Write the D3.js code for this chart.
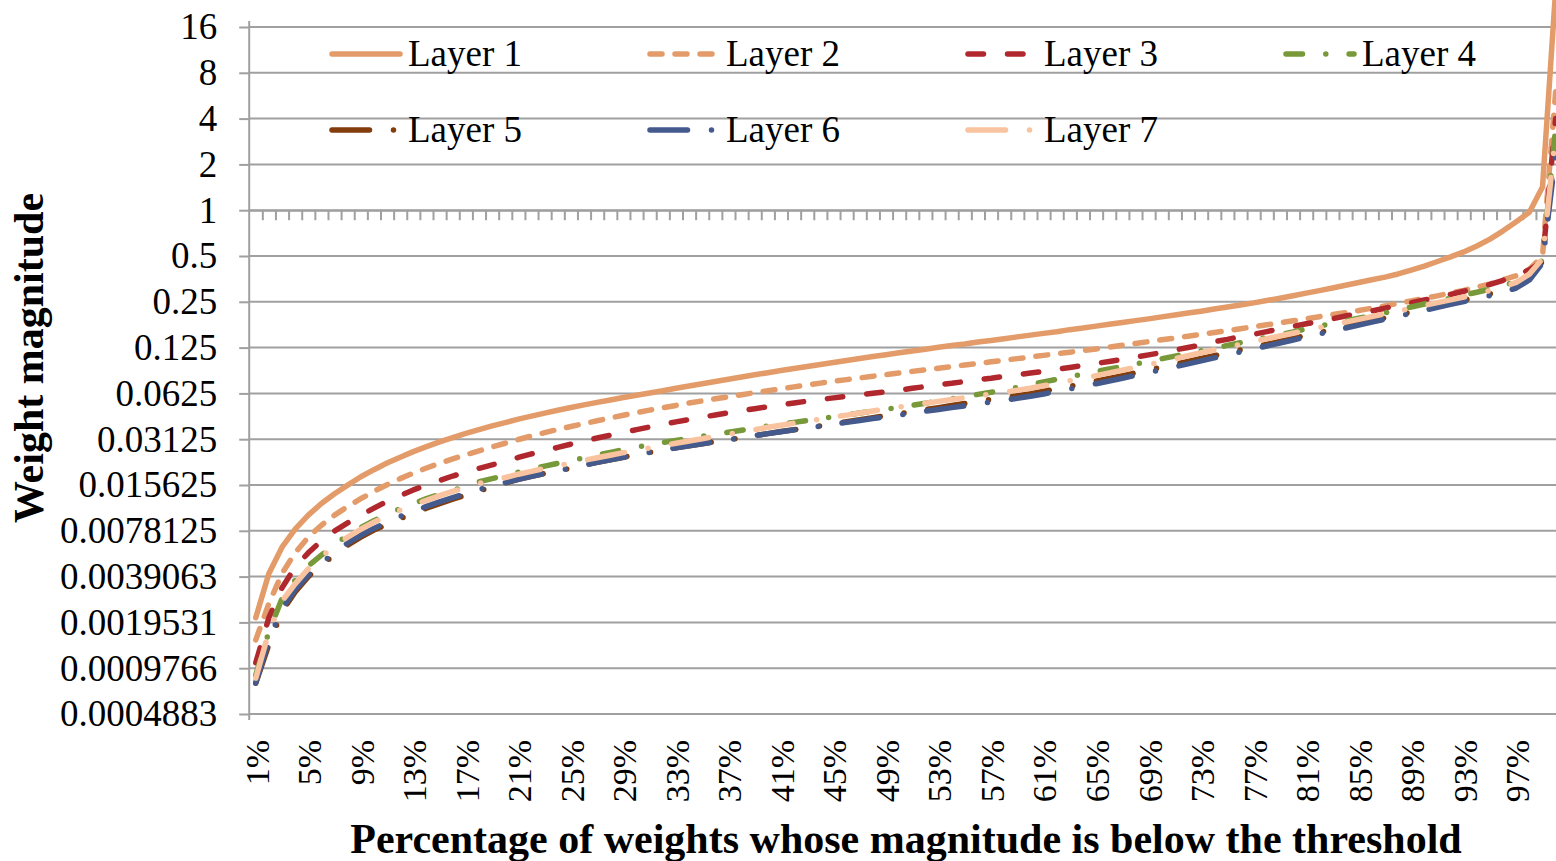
<!DOCTYPE html>
<html>
<head>
<meta charset="utf-8">
<script src="https://cdn.jsdelivr.net/npm/d3@7"></script>
<style>
  html, body { margin: 0; padding: 0; background: #fff; }
  svg { display: block; }
  text { font-family: "Liberation Serif", "Times New Roman", serif; fill: #000; }
</style>
</head>
<body>
<svg id="chart" width="1556" height="861"></svg>
<script>
// Percentile categories along the x axis (1% .. 100%)
const percentiles = [
  1,2,3,4,5,6,7,8,9,10,11,12,13,14,15,16,17,18,19,20,
  21,22,23,24,25,26,27,28,29,30,31,32,33,34,35,36,37,38,39,40,
  41,42,43,44,45,46,47,48,49,50,51,52,53,54,55,56,57,58,59,60,
  61,62,63,64,65,66,67,68,69,70,71,72,73,74,75,76,77,78,79,80,
  81,82,83,84,85,86,87,88,89,90,91,92,93,94,95,96,97,98,99,100
];

// Labelled categories on the x axis
const xTickLabels = ["1%","5%","9%","13%","17%","21%","25%","29%","33%","37%","41%","45%",
  "49%","53%","57%","61%","65%","69%","73%","77%","81%","85%","89%","93%","97%"];

// y axis: powers of two and their printed labels
const yTickValues = [16, 8, 4, 2, 1, 0.5, 0.25, 0.125, 0.0625, 0.03125, 0.015625,
  0.0078125, 0.00390625, 0.001953125, 0.0009765625, 0.00048828125];
const yTickLabels = ["16","8","4","2","1","0.5","0.25","0.125","0.0625","0.03125","0.015625",
  "0.0078125","0.0039063","0.0019531","0.0009766","0.0004883"];

// Weight magnitude thresholds per layer, one value per percentile
const layer1 = [
  0.0021,0.0041,0.0061,0.0080,0.0099,0.0118,0.0137,0.0156,0.0177,0.0197,
  0.0218,0.0238,0.0259,0.0279,0.0300,0.0320,0.0341,0.0361,0.0382,0.0402,
  0.0423,0.0443,0.0464,0.0484,0.0505,0.0525,0.0546,0.0566,0.0587,0.0607,
  0.0628,0.0651,0.0675,0.0699,0.0724,0.0749,0.0775,0.0801,0.0828,0.0855,
  0.0883,0.0911,0.0940,0.0969,0.0999,0.1029,0.1060,0.1091,0.1123,0.1155,
  0.1188,0.1221,0.1255,0.129,0.132,0.136,0.139,0.143,0.147,0.151,
  0.155,0.159,0.164,0.168,0.173,0.178,0.183,0.188,0.193,0.199,
  0.205,0.211,0.217,0.224,0.231,0.238,0.246,0.255,0.264,0.274,
  0.285,0.296,0.308,0.321,0.335,0.349,0.363,0.381,0.404,0.429,
  0.460,0.493,0.532,0.582,0.646,0.732,0.840,0.970,1.42,28
];
const layer2 = [
  0.0015,0.0026,0.0041,0.0056,0.0071,0.0085,0.0099,0.0113,0.0127,0.0142,
  0.0157,0.0172,0.0187,0.0202,0.0217,0.0232,0.0247,0.0262,0.0278,0.0294,
  0.0311,0.0328,0.0345,0.0362,0.0379,0.0396,0.0413,0.0431,0.0449,0.0467,
  0.0485,0.0503,0.0521,0.0540,0.0558,0.0576,0.0594,0.0613,0.0632,0.0651,
  0.0670,0.0690,0.0710,0.0730,0.0750,0.0770,0.0790,0.0810,0.0830,0.0851,
  0.0872,0.0893,0.0915,0.0938,0.0961,0.0984,0.1008,0.1033,0.1058,0.1084,
  0.1111,0.1138,0.1166,0.1195,0.1224,0.1259,0.1294,0.1330,0.1368,0.1406,
  0.1446,0.1486,0.1528,0.1571,0.1615,0.1664,0.1714,0.1765,0.1818,0.1875,
  0.1934,0.1995,0.2059,0.2124,0.2192,0.2269,0.2349,0.2441,0.2535,0.2633,
  0.2736,0.2852,0.2973,0.3120,0.3276,0.3490,0.3711,0.4089,0.5000,6.0
];
const layer3 = [
  0.00106,0.0021,0.0033,0.0045,0.0056,0.0067,0.0078,0.0088,0.0099,0.0110,
  0.0122,0.0133,0.0145,0.0156,0.0167,0.0179,0.0190,0.0201,0.0212,0.0224,
  0.0237,0.0250,0.0263,0.0276,0.0290,0.0304,0.0318,0.0332,0.0346,0.0361,
  0.0376,0.0391,0.0406,0.0421,0.0436,0.0451,0.0466,0.0481,0.0496,0.0511,
  0.0526,0.0541,0.0556,0.0570,0.0584,0.0598,0.0612,0.0626,0.0641,0.0656,
  0.0675,0.0693,0.0713,0.0728,0.0748,0.0769,0.0786,0.0808,0.0830,0.0850,
  0.0874,0.0899,0.0926,0.0954,0.0983,0.1014,0.1047,0.1082,0.1120,0.1160,
  0.1205,0.1252,0.1300,0.1368,0.1416,0.1476,0.1528,0.1593,0.1661,0.1719,
  0.1792,0.1856,0.1934,0.2016,0.2088,0.2176,0.2269,0.2365,0.2466,0.2570,
  0.2679,0.2793,0.2932,0.3078,0.3253,0.3463,0.3711,0.4061,0.4601,4.0
];
const layer4 = [
  0.00088,0.0017,0.0028,0.0037,0.0046,0.0054,0.0063,0.0073,0.0082,0.0091,
  0.0100,0.0109,0.0118,0.0127,0.0136,0.0144,0.0153,0.0164,0.0172,0.0181,
  0.0190,0.0199,0.0208,0.0217,0.0226,0.0236,0.0246,0.0256,0.0267,0.0277,
  0.0287,0.0297,0.0307,0.0317,0.0327,0.0337,0.0347,0.0358,0.0370,0.0381,
  0.0392,0.0403,0.0414,0.0427,0.0439,0.0451,0.0465,0.0478,0.0492,0.0505,
  0.0522,0.0539,0.0556,0.0575,0.0596,0.0616,0.0636,0.0660,0.0684,0.0712,
  0.0744,0.0773,0.0803,0.0835,0.0869,0.0905,0.0939,0.0976,0.1015,0.1056,
  0.1099,0.1144,0.1192,0.1241,0.1292,0.1346,0.1402,0.1461,0.1521,0.1584,
  0.1658,0.1727,0.1799,0.1873,0.1950,0.2031,0.2114,0.2211,0.2312,0.2418,
  0.2528,0.2643,0.2764,0.2891,0.3025,0.3180,0.3390,0.3800,0.4700,3.5
];
const layer5 = [
  0.00078,0.0014,0.0023,0.0031,0.0039,0.0047,0.0054,0.0063,0.0071,0.0079,
  0.0086,0.0094,0.0102,0.0110,0.0118,0.0126,0.0134,0.0143,0.0152,0.0161,
  0.0170,0.0178,0.0186,0.0194,0.0202,0.0211,0.0220,0.0229,0.0238,0.0247,
  0.0256,0.0265,0.0274,0.0283,0.0292,0.0301,0.0310,0.0320,0.0330,0.0340,
  0.0351,0.0361,0.0372,0.0383,0.0395,0.0407,0.0420,0.0433,0.0446,0.0460,
  0.0474,0.0489,0.0504,0.0520,0.0536,0.0553,0.0570,0.0587,0.0604,0.0622,
  0.0645,0.0670,0.0696,0.0724,0.0753,0.0784,0.0817,0.0853,0.0890,0.0930,
  0.0971,0.1014,0.1059,0.1106,0.1155,0.1207,0.1260,0.1316,0.1375,0.1437,
  0.1502,0.1570,0.1641,0.1715,0.1793,0.1875,0.1960,0.2050,0.2144,0.2242,
  0.2344,0.2451,0.2566,0.2689,0.2822,0.2980,0.3200,0.3560,0.4600,2.8
];
const layer6 = [
  0.00078,0.0015,0.0024,0.0032,0.0040,0.0048,0.0056,0.0065,0.0073,0.0081,
  0.0089,0.0097,0.0105,0.0113,0.0121,0.0129,0.0137,0.0146,0.0154,0.0162,
  0.0170,0.0178,0.0186,0.0194,0.0202,0.0211,0.0220,0.0229,0.0238,0.0247,
  0.0256,0.0265,0.0274,0.0283,0.0292,0.0301,0.0310,0.0320,0.0330,0.0340,
  0.0350,0.0360,0.0370,0.0381,0.0392,0.0403,0.0415,0.0427,0.0439,0.0451,
  0.0464,0.0477,0.0490,0.0504,0.0518,0.0533,0.0548,0.0564,0.0580,0.0598,
  0.0620,0.0644,0.0669,0.0696,0.0724,0.0754,0.0786,0.0820,0.0856,0.0894,
  0.0935,0.0978,0.1023,0.1070,0.1119,0.1171,0.1225,0.1281,0.1340,0.1402,
  0.1467,0.1535,0.1606,0.1680,0.1757,0.1838,0.1922,0.2010,0.2102,0.2198,
  0.2298,0.2403,0.2513,0.2628,0.2750,0.2890,0.3080,0.3480,0.4500,2.3
];
const layer7 = [
  0.00084,0.0017,0.0027,0.0035,0.0044,0.0053,0.0062,0.0071,0.0080,0.0089,
  0.0098,0.0107,0.0116,0.0124,0.0133,0.0142,0.0150,0.0160,0.0168,0.0175,
  0.0184,0.0192,0.0201,0.0209,0.0218,0.0227,0.0236,0.0245,0.0255,0.0264,
  0.0274,0.0284,0.0294,0.0304,0.0315,0.0326,0.0337,0.0349,0.0361,0.0374,
  0.0386,0.0398,0.0410,0.0423,0.0437,0.0450,0.0465,0.0479,0.0494,0.0509,
  0.0524,0.0539,0.0554,0.0570,0.0585,0.0602,0.0619,0.0637,0.0655,0.0676,
  0.0701,0.0728,0.0756,0.0786,0.0818,0.0852,0.0888,0.0927,0.0967,0.1010,
  0.1057,0.1105,0.1156,0.1206,0.1258,0.1313,0.1370,0.1428,0.1490,0.1554,
  0.1620,0.1689,0.1761,0.1837,0.1915,0.1998,0.2083,0.2172,0.2266,0.2365,
  0.2468,0.2576,0.2689,0.2817,0.2962,0.3130,0.3350,0.3800,0.4800,3.2
];

const seriesNames = ["Layer 1","Layer 2","Layer 3","Layer 4","Layer 5","Layer 6","Layer 7"];
const seriesValues = [layer1, layer2, layer3, layer4, layer5, layer6, layer7];

// Line styles (stroke colour and dash pattern, round caps)
const styles = [
  { color: "#e39c69", dash: null },
  { color: "#e39c69", dash: "12,13" },
  { color: "#b0282d", dash: "15.5,24" },
  { color: "#77993a", dash: "16.5,23.3,0,23.3" },
  { color: "#833c0b", dash: "37.5,24,0,24" },
  { color: "#445a8c", dash: "37.5,24,0,24" },
  { color: "#f9c3a0", dash: "37.5,24,0,24" }
];
const lineWidth = 5.5;

const width = 1556, height = 861;
const svg = d3.select("#chart");
svg.append("rect").attr("width", width).attr("height", height).attr("fill", "#fff");

const plotLeft = 249.2, plotTop = 27, plotBottom = 714;
const bandW = 13.13;

const x = d3.scaleBand()
  .domain(percentiles)
  .range([plotLeft, plotLeft + bandW * percentiles.length])
  .padding(0);
const xc = p => x(p) + x.bandwidth() / 2;

const y = d3.scaleLog().base(2)
  .domain([yTickValues[yTickValues.length - 1], yTickValues[0]])
  .range([plotBottom, plotTop]);

const gridColor = "#a0a0a0";

// Horizontal gridlines
svg.append("g").selectAll("line")
  .data(yTickValues)
  .join("line")
  .attr("x1", plotLeft).attr("x2", width)
  .attr("y1", d => y(d)).attr("y2", d => y(d))
  .attr("stroke", gridColor).attr("stroke-width", 2);

// Vertical axis with outward ticks
const yAxis = d3.axisLeft(y)
  .tickValues(yTickValues)
  .tickFormat((d, i) => yTickLabels[i])
  .tickSize(10)
  .tickPadding(22)
  .tickSizeOuter(0);
const gy = svg.append("g").attr("transform", `translate(${plotLeft},0)`).call(yAxis);
gy.select(".domain").attr("stroke", gridColor).attr("stroke-width", 2)
  .attr("d", `M0,${plotTop - 6}V${plotBottom + 6}`);
gy.selectAll(".tick line").attr("stroke", gridColor).attr("stroke-width", 2);
gy.selectAll(".tick text")
  .attr("font-size", 37)
  .attr("font-family", "Liberation Serif, Times New Roman, serif")
  .attr("fill", "#000");

// Category axis crossing at 1 with boundary tick marks
const boundary = d3.scaleLinear().domain([0, percentiles.length])
  .range([plotLeft, plotLeft + bandW * percentiles.length]);
const gx = svg.append("g").attr("transform", `translate(0,${y(1)})`)
  .call(d3.axisBottom(boundary)
    .tickValues(d3.range(1, percentiles.length + 1))
    .tickFormat("")
    .tickSize(10)
    .tickSizeOuter(0));
gx.select(".domain").attr("stroke", gridColor).attr("stroke-width", 2);
gx.selectAll(".tick line").attr("stroke", gridColor).attr("stroke-width", 2);

// Category labels along the bottom, rotated
svg.append("g").selectAll("text")
  .data(xTickLabels)
  .join("text")
  .attr("transform", d => `translate(${xc(parseInt(d)) + 1},740) rotate(-90)`)
  .attr("text-anchor", "end")
  .attr("dy", "0.35em")
  .attr("font-size", 34)
  .text(d => d);

// Series lines
const line = d3.line()
  .x((d, i) => xc(percentiles[i]))
  .y(d => y(d));

svg.append("g").selectAll("path")
  .data(seriesValues)
  .join("path")
  .attr("d", d => line(d))
  .attr("fill", "none")
  .attr("stroke", (d, i) => styles[i].color)
  .attr("stroke-width", lineWidth)
  .attr("stroke-linecap", "round")
  .attr("stroke-linejoin", "round")
  .attr("stroke-dasharray", (d, i) => styles[i].dash);

// Legend: two rows of four columns
const legendCols = [332, 650, 968, 1286];
const legendRows = [54, 130];
const legend = svg.append("g").selectAll("g")
  .data(seriesNames)
  .join("g")
  .attr("transform", (d, i) => `translate(${legendCols[i % 4]},${legendRows[Math.floor(i / 4)]})`);
legend.append("line")
  .attr("x1", 0).attr("x2", 68).attr("y1", 0).attr("y2", 0)
  .attr("stroke", (d, i) => styles[i].color)
  .attr("stroke-width", lineWidth)
  .attr("stroke-linecap", "round")
  .attr("stroke-dasharray", (d, i) => styles[i].dash);
legend.append("text")
  .attr("x", 76).attr("y", 12)
  .attr("font-size", 37)
  .text(d => d);

// Axis titles
svg.append("text")
  .attr("transform", "translate(43,358) rotate(-90)")
  .attr("text-anchor", "middle")
  .attr("font-size", 42)
  .attr("font-weight", "bold")
  .text("Weight magnitude");

svg.append("text")
  .attr("x", 906).attr("y", 853)
  .attr("text-anchor", "middle")
  .attr("font-size", 42)
  .attr("font-weight", "bold")
  .text("Percentage of weights whose magnitude is below the threshold");
</script>
</body>
</html>
